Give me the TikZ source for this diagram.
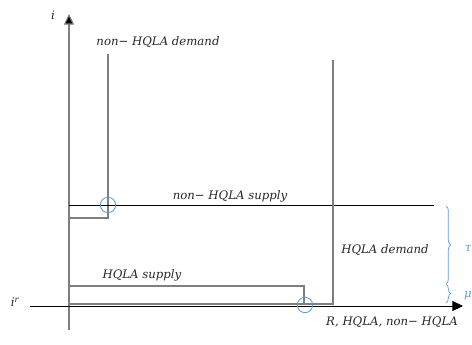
\documentclass[tikz,border=0pt]{standalone}
\usepackage{amsmath,amssymb}
\usepackage{fontspec}
\setmainfont{DejaVu Serif}
\usepackage{xcolor}
\usepackage{tikz}
\usetikzlibrary{arrows.meta,decorations.pathreplacing}
\definecolor{curvegray}{HTML}{7F7F7F}
\definecolor{bandblue}{HTML}{5B9BD5}
\definecolor{ink}{HTML}{262626}
\tikzset{
  axis/.style={draw=black, line width=0.6pt, -{Triangle[length=9pt,width=8.5pt]}},
  yaxis/.style={draw=curvegray, line width=0.9pt, -{Triangle[length=9pt,width=8.5pt,fill=black]}},
  curve/.style={draw=curvegray, line width=0.9pt},
  thin/.style={draw=black, line width=0.6pt},
  hit/.style={circle, draw=bandblue, line width=0.7pt, minimum size=0.46cm, inner sep=0pt},
  band/.style={draw=bandblue, line width=0.6pt, decorate,
    decoration={brace, amplitude=4pt}},
  lab/.style={font=\fontsize{10}{12}\selectfont\itshape, text=ink, inner sep=1pt},
  labb/.style={lab, text=bandblue}
}
\begin{document}
\begin{tikzpicture}[x=0.03cm, y=-0.03cm]
  \useasboundingbox (0,0) rectangle (472,345);

  % axes
  \coordinate (O) at (69,306);
  \coordinate (ybot) at (69,330);
  \coordinate (ytop) at (69,14);
  \coordinate (xleft) at (30,306);
  \coordinate (xright) at (463,306);
  \draw[yaxis] (ybot) -- (ytop);
  \draw[axis] (xleft) -- (xright);
  \node[lab] (ilab) at (53,15) {i};
  \node[lab] (irlab) at (15,302) {i\textsuperscript{r}};
  \node[lab] (xlab) at (392,322) {R, HQLA, non− HQLA};

  % non-HQLA market
  \coordinate (nd0) at (108,54);
  \coordinate (nd1) at (108,218);
  \coordinate (nd2) at (69,218);
  \draw[curve] (nd0) -- (nd1) -- (nd2);
  \coordinate (ns0) at (69,205);
  \coordinate (ns1) at (434,205);
  \draw[thin] (ns0) -- (ns1);
  \node[hit] (nhit) at (108,205) {};
  \node[lab] (ndlab) at (158,42) {non− HQLA demand};
  \node[lab] (nslab) at (230,196) {non− HQLA supply};

  % HQLA market
  \coordinate (hd0) at (333,60);
  \coordinate (hd1) at (333,304);
  \coordinate (hd2) at (69,304);
  \draw[curve] (hd0) -- (hd1) -- (hd2);
  \coordinate (hs0) at (69,286);
  \coordinate (hs1) at (304,286);
  \coordinate (hs2) at (304,305);
  \draw[curve] (hs0) -- (hs1) -- (hs2);
  \node[hit] (hhit) at (305,305) {};
  \node[lab] (hdlab) at (385,250) {HQLA demand};
  \node[lab] (hslab) at (142,275) {HQLA supply};

  % spreads
  \coordinate (b0) at (446,206);
  \coordinate (b1) at (446,284);
  \coordinate (b2) at (446,303);
  \draw[band] (b0) -- (b1);
  \draw[band] (b1) -- (b2);
  \node[labb] (taulab) at (468,249) {τ};
  \node[labb] (mulab) at (468,296) {μ};
\end{tikzpicture}
\end{document}
